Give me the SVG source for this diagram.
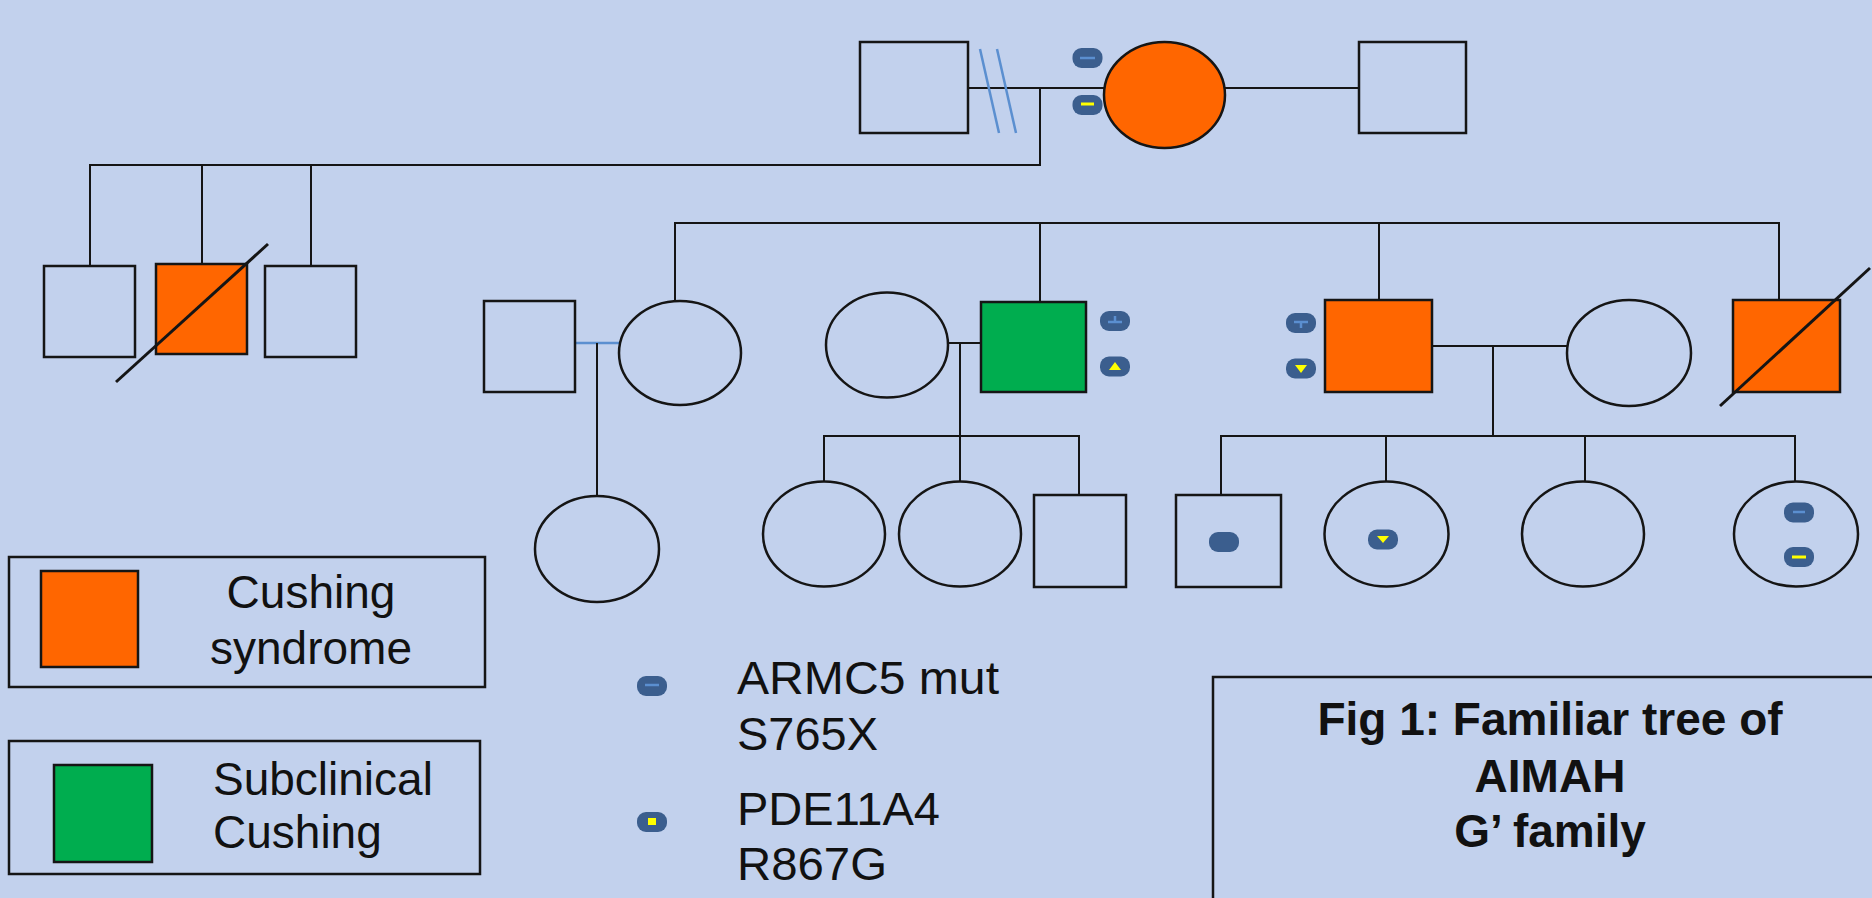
<svg xmlns="http://www.w3.org/2000/svg" width="1872" height="898" viewBox="0 0 1872 898">
<style>
.n{fill:none;stroke:#151515;stroke-width:2.5}
.o{fill:#ff6600;stroke:#151515;stroke-width:2.5}
.g{fill:#00ad4f;stroke:#151515;stroke-width:2.5}
.ln{stroke:#151515;stroke-width:2;fill:none}
.sl{stroke:#151515;stroke-width:3}
.bl{stroke:#5b8fd0;stroke-width:2.5}
.pill{fill:#3b5e8e}
.d1{stroke:#5b8fd0;stroke-width:2.5}
.d2{stroke:#ffff00;stroke-width:3}
.tri{fill:#ffff00}
text{font-family:"Liberation Sans",Arial,sans-serif;fill:#111;font-size:46px}
.b{font-weight:bold}
</style>
<defs>
<rect id="pill" x="-15" y="-10" width="30" height="20" rx="9" class="pill"/>
</defs>
<rect x="0" y="0" width="1872" height="898" fill="#c2d1ed"/>

<g id="connectors">
<line class="ln" x1="968" y1="88" x2="1104" y2="88"/>
<line class="bl" x1="980" y1="49" x2="999" y2="133"/>
<line class="bl" x1="997" y1="49" x2="1016" y2="133"/>
<line class="ln" x1="1040" y1="88" x2="1040" y2="165"/>
<line class="ln" x1="89" y1="165" x2="1041" y2="165"/>
<line class="ln" x1="90" y1="165" x2="90" y2="266"/>
<line class="ln" x1="202" y1="165" x2="202" y2="270"/>
<line class="ln" x1="311" y1="165" x2="311" y2="266"/>
<line class="ln" x1="1225" y1="88" x2="1359" y2="88"/>
<line class="ln" x1="675" y1="223" x2="1780" y2="223"/>
<line class="ln" x1="675" y1="222" x2="675" y2="301"/>
<line class="ln" x1="1040" y1="223" x2="1040" y2="302"/>
<line class="ln" x1="1379" y1="223" x2="1379" y2="300"/>
<line class="ln" x1="1779" y1="223" x2="1779" y2="300"/>
<line class="bl" x1="575" y1="343" x2="619" y2="343"/>
<line class="ln" x1="597" y1="343" x2="597" y2="496"/>
<line class="ln" x1="948" y1="343" x2="981" y2="343"/>
<line class="ln" x1="960" y1="343" x2="960" y2="482"/>
<line class="ln" x1="823" y1="436" x2="1080" y2="436"/>
<line class="ln" x1="824" y1="436" x2="824" y2="482"/>
<line class="ln" x1="1079" y1="436" x2="1079" y2="495"/>
<line class="ln" x1="1432" y1="346" x2="1567" y2="346"/>
<line class="ln" x1="1493" y1="346" x2="1493" y2="436"/>
<line class="ln" x1="1220" y1="436" x2="1796" y2="436"/>
<line class="ln" x1="1221" y1="436" x2="1221" y2="495"/>
<line class="ln" x1="1386" y1="436" x2="1386" y2="482"/>
<line class="ln" x1="1585" y1="436" x2="1585" y2="482"/>
<line class="ln" x1="1795" y1="436" x2="1795" y2="482"/>
</g>

<g id="I1"><rect class="n" x="860" y="42" width="108" height="91"/></g>
<g id="I2"><ellipse class="o" cx="1164.5" cy="95" rx="60.5" ry="53"/>
<use href="#pill" x="1087.5" y="58"/><line class="d1" x1="1080" y1="58" x2="1095" y2="58"/>
<use href="#pill" x="1087.5" y="105"/><line class="d2" x1="1081" y1="104" x2="1094" y2="104"/></g>
<g id="I3"><rect class="n" x="1359" y="42" width="107" height="91"/></g>

<g id="II1"><rect class="n" x="44" y="266" width="91" height="91"/></g>
<g id="II2"><rect class="o" x="156" y="264" width="91" height="90"/><line class="sl" x1="116" y1="382" x2="268" y2="244"/></g>
<g id="II3"><rect class="n" x="265" y="266" width="91" height="91"/></g>
<g id="II4"><rect class="n" x="484" y="301" width="91" height="91"/></g>
<g id="II5"><ellipse class="n" cx="680" cy="353" rx="61" ry="52"/></g>
<g id="II6"><ellipse class="n" cx="887" cy="345" rx="61" ry="52.5"/></g>
<g id="II7"><rect class="g" x="981" y="302" width="105" height="90"/>
<use href="#pill" x="1115" y="321"/><line class="d1" x1="1108" y1="322" x2="1122" y2="322"/><line class="d1" x1="1115" y1="316" x2="1115" y2="322"/>
<use href="#pill" x="1115" y="366.5"/><polygon class="tri" points="1109,370 1121,370 1115,362"/></g>
<g id="II8"><rect class="o" x="1325" y="300" width="107" height="92"/>
<use href="#pill" x="1301" y="323"/><line class="d1" x1="1294" y1="322" x2="1308" y2="322"/><line class="d1" x1="1301" y1="322" x2="1301" y2="328"/>
<use href="#pill" x="1301" y="368.5"/><polygon class="tri" points="1295,365 1307,365 1301,373"/></g>
<g id="II9"><ellipse class="n" cx="1629" cy="353" rx="62" ry="53"/></g>
<g id="II10"><rect class="o" x="1733" y="300" width="107" height="92"/><line class="sl" x1="1720" y1="406" x2="1870" y2="268"/></g>

<g id="III1"><ellipse class="n" cx="597" cy="549" rx="62" ry="53"/></g>
<g id="III2"><ellipse class="n" cx="824" cy="534" rx="61" ry="52.5"/></g>
<g id="III3"><ellipse class="n" cx="960" cy="534" rx="61" ry="52.5"/></g>
<g id="III4"><rect class="n" x="1034" y="495" width="92" height="92"/></g>
<g id="III5"><rect class="n" x="1176" y="495" width="105" height="92"/><use href="#pill" x="1224" y="542"/></g>
<g id="III6"><ellipse class="n" cx="1386.5" cy="534" rx="62" ry="52.5"/><use href="#pill" x="1383" y="539.5"/><polygon class="tri" points="1377,536 1389,536 1383,543"/></g>
<g id="III7"><ellipse class="n" cx="1583" cy="534" rx="61" ry="52.5"/></g>
<g id="III8"><ellipse class="n" cx="1796" cy="534" rx="62" ry="52.5"/>
<use href="#pill" x="1799" y="512.5"/><line class="d1" x1="1793" y1="512" x2="1805" y2="512"/>
<use href="#pill" x="1799" y="557"/><line class="d2" x1="1792" y1="557" x2="1806" y2="557"/></g>

<g id="legend-cushing"><rect class="n" x="9" y="557" width="476" height="130"/><rect class="o" x="41" y="571" width="97" height="96"/>
<text x="311" y="608" text-anchor="middle">Cushing</text><text x="311" y="664" text-anchor="middle">syndrome</text></g>
<g id="legend-subclinical"><rect class="n" x="9" y="741" width="471" height="133"/><rect class="g" x="54" y="765" width="98" height="97"/>
<text x="213" y="795">Subclinical</text><text x="213" y="848">Cushing</text></g>
<g id="legend-armc5"><use href="#pill" x="652" y="686"/><line class="d1" x1="645" y1="685" x2="659" y2="685"/>
<text x="737" y="694" font-size="42" textLength="262" lengthAdjust="spacingAndGlyphs">ARMC5 mut</text>
<text x="737" y="750" font-size="42" textLength="141" lengthAdjust="spacingAndGlyphs">S765X</text></g>
<g id="legend-pde"><use href="#pill" x="652" y="822"/><rect x="648" y="818" width="8" height="7" fill="#ffff00"/>
<text x="737" y="825" font-size="42" textLength="203" lengthAdjust="spacingAndGlyphs">PDE11A4</text>
<text x="737" y="880" font-size="42" textLength="150" lengthAdjust="spacingAndGlyphs">R867G</text></g>
<g id="caption"><rect class="n" x="1213" y="677" width="700" height="260"/>
<text class="b" x="1550" y="735" text-anchor="middle" font-size="46">Fig 1: Familiar tree of</text>
<text class="b" x="1550" y="792" text-anchor="middle" font-size="46">AIMAH</text>
<text class="b" x="1550" y="847" text-anchor="middle" font-size="46">G’ family</text></g>
</svg>
